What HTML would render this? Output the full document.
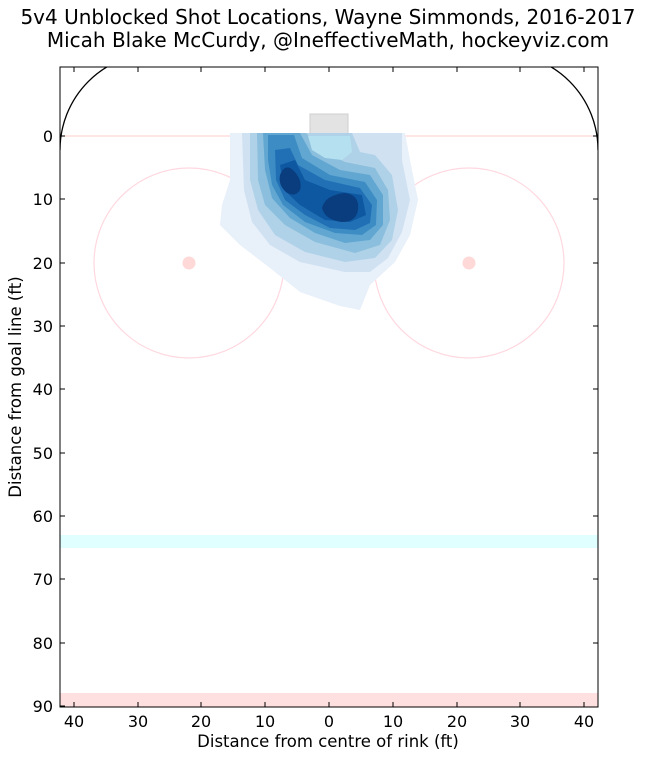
<!DOCTYPE html>
<html><head><meta charset="utf-8"><style>body{margin:0;background:#fff}svg{display:block}</style></head><body>
<svg width="647" height="759" xmlns="http://www.w3.org/2000/svg" font-family="DejaVu Sans, Liberation Sans, sans-serif">
<rect width="647" height="759" fill="#fff"/>
<text x="328" y="24" font-size="20" text-anchor="middle">5v4 Unblocked Shot Locations, Wayne Simmonds, 2016-2017</text>
<text x="328" y="47" font-size="20" text-anchor="middle">Micah Blake McCurdy, @IneffectiveMath, hockeyviz.com</text>
<defs><clipPath id="c"><rect x="60" y="67" width="538" height="640"/></clipPath></defs>
<g clip-path="url(#c)">
<rect x="60" y="535" width="538" height="13" fill="#e0ffff"/>
<rect x="60" y="693" width="538" height="14" fill="#ffe0e0"/>
<line x1="60" y1="136" x2="598" y2="136" stroke="#ffd8d8" stroke-width="1.2"/>
<circle cx="189" cy="263" r="95" fill="none" stroke="#ffd8e0" stroke-width="1.2"/>
<circle cx="469" cy="263" r="95" fill="none" stroke="#ffd8e0" stroke-width="1.2"/>
<circle cx="189" cy="263" r="6.5" fill="#ffd8d8"/>
<circle cx="469" cy="263" r="6.5" fill="#ffd8d8"/>
<rect x="310" y="114" width="38" height="22" fill="#e3e3e3" stroke="#cfcfcf"/>
<g stroke-linejoin="round">
<path d="M230,133 L405,133 L410,160 L418,200 L410,235 L395,262 L370,285 L360,310 L340,306 L300,292 L270,268 L240,245 L220,225 L222,205 L230,180 Z" fill="#e8f0fa"/>
<path d="M242,133 L402,133 L402,160 L410,200 L402,232 L388,258 L370,272 L345,272 L300,262 L270,245 L252,222 L244,190 Z" fill="#d0e1f2"/>
<path d="M250,133 L352,133 L360,152 L375,155 L392,175 L398,210 L392,240 L375,258 L345,262 L305,252 L275,235 L258,210 L250,180 Z" fill="#b0d2e8"/>
<path d="M257,133 L306,133 L320,150 L345,162 L375,168 L388,190 L390,220 L380,245 L355,253 L315,242 L285,225 L265,205 L258,180 Z" fill="#8bbfdd"/>
<path d="M263,133 L300,133 L312,155 L340,170 L370,175 L383,195 L383,225 L370,240 L345,243 L315,233 L290,218 L272,198 L265,170 Z" fill="#62a7d2"/>
<path d="M268,135 L294,135 L302,158 L330,175 L365,182 L377,200 L376,225 L362,235 L335,233 L305,222 L283,205 L272,185 L268,160 Z" fill="#3d8dc4"/>
<path d="M275,150 L290,148 L298,165 L325,180 L360,188 L372,205 L370,223 L355,230 L330,228 L305,215 L285,200 L276,180 Z" fill="#2170b5"/>
<path d="M280,165 L295,160 L305,180 L330,190 L362,195 L366,215 L350,222 L325,220 L300,205 L284,190 Z" fill="#0e58a2"/>
<path d="M280,175 Q285,163 293,170 Q303,180 300,190 Q295,198 286,192 Q278,185 280,175 Z" fill="#0a3d7e"/>
<path d="M322,208 Q325,195 345,193 Q360,195 358,210 Q356,222 342,222 Q325,220 322,208 Z" fill="#0a3d7e"/>
<path d="M308,136 L350,136 L352,152 L342,160 L325,158 L312,150 Z" fill="#b5e0ef"/>
</g>
<path d="M60,150 A97,97 0 0 1 157,53" fill="none" stroke="#000" stroke-width="1.3"/>
<path d="M598,150 A97,97 0 0 0 501,53" fill="none" stroke="#000" stroke-width="1.3"/>
</g>
<rect x="60" y="67" width="538" height="640" fill="none" stroke="#000" stroke-width="1"/>
<g stroke="#000" stroke-width="1">
<line x1="74" y1="707" x2="74" y2="702"/><line x1="138" y1="707" x2="138" y2="702"/><line x1="201" y1="707" x2="201" y2="702"/><line x1="265" y1="707" x2="265" y2="702"/><line x1="329" y1="707" x2="329" y2="702"/><line x1="393" y1="707" x2="393" y2="702"/><line x1="457" y1="707" x2="457" y2="702"/><line x1="520" y1="707" x2="520" y2="702"/><line x1="584" y1="707" x2="584" y2="702"/>
<line x1="74" y1="67" x2="74" y2="72"/><line x1="138" y1="67" x2="138" y2="72"/><line x1="201" y1="67" x2="201" y2="72"/><line x1="265" y1="67" x2="265" y2="72"/><line x1="329" y1="67" x2="329" y2="72"/><line x1="393" y1="67" x2="393" y2="72"/><line x1="457" y1="67" x2="457" y2="72"/><line x1="520" y1="67" x2="520" y2="72"/><line x1="584" y1="67" x2="584" y2="72"/>
<line x1="60" y1="136" x2="65" y2="136"/><line x1="60" y1="199" x2="65" y2="199"/><line x1="60" y1="263" x2="65" y2="263"/><line x1="60" y1="326" x2="65" y2="326"/><line x1="60" y1="389" x2="65" y2="389"/><line x1="60" y1="453" x2="65" y2="453"/><line x1="60" y1="516" x2="65" y2="516"/><line x1="60" y1="579" x2="65" y2="579"/><line x1="60" y1="643" x2="65" y2="643"/><line x1="60" y1="706" x2="65" y2="706"/>
<line x1="598" y1="136" x2="593" y2="136"/><line x1="598" y1="199" x2="593" y2="199"/><line x1="598" y1="263" x2="593" y2="263"/><line x1="598" y1="326" x2="593" y2="326"/><line x1="598" y1="389" x2="593" y2="389"/><line x1="598" y1="453" x2="593" y2="453"/><line x1="598" y1="516" x2="593" y2="516"/><line x1="598" y1="579" x2="593" y2="579"/><line x1="598" y1="643" x2="593" y2="643"/>
</g>
<g font-size="16" text-anchor="end">
<text x="53" y="142">0</text><text x="53" y="205">10</text><text x="53" y="269">20</text><text x="53" y="332">30</text><text x="53" y="395">40</text><text x="53" y="459">50</text><text x="53" y="522">60</text><text x="53" y="585">70</text><text x="53" y="649">80</text><text x="53" y="712">90</text>
</g>
<g font-size="16" text-anchor="middle">
<text x="74" y="727">40</text><text x="138" y="727">30</text><text x="201" y="727">20</text><text x="265" y="727">10</text><text x="329" y="727">0</text><text x="393" y="727">10</text><text x="457" y="727">20</text><text x="520" y="727">30</text><text x="584" y="727">40</text>
</g>
<g font-size="16.5" text-anchor="middle">
<text x="328" y="747">Distance from centre of rink (ft)</text>
<text transform="translate(21,387) rotate(-90)">Distance from goal line (ft)</text>
</g>
</svg>
</body></html>
